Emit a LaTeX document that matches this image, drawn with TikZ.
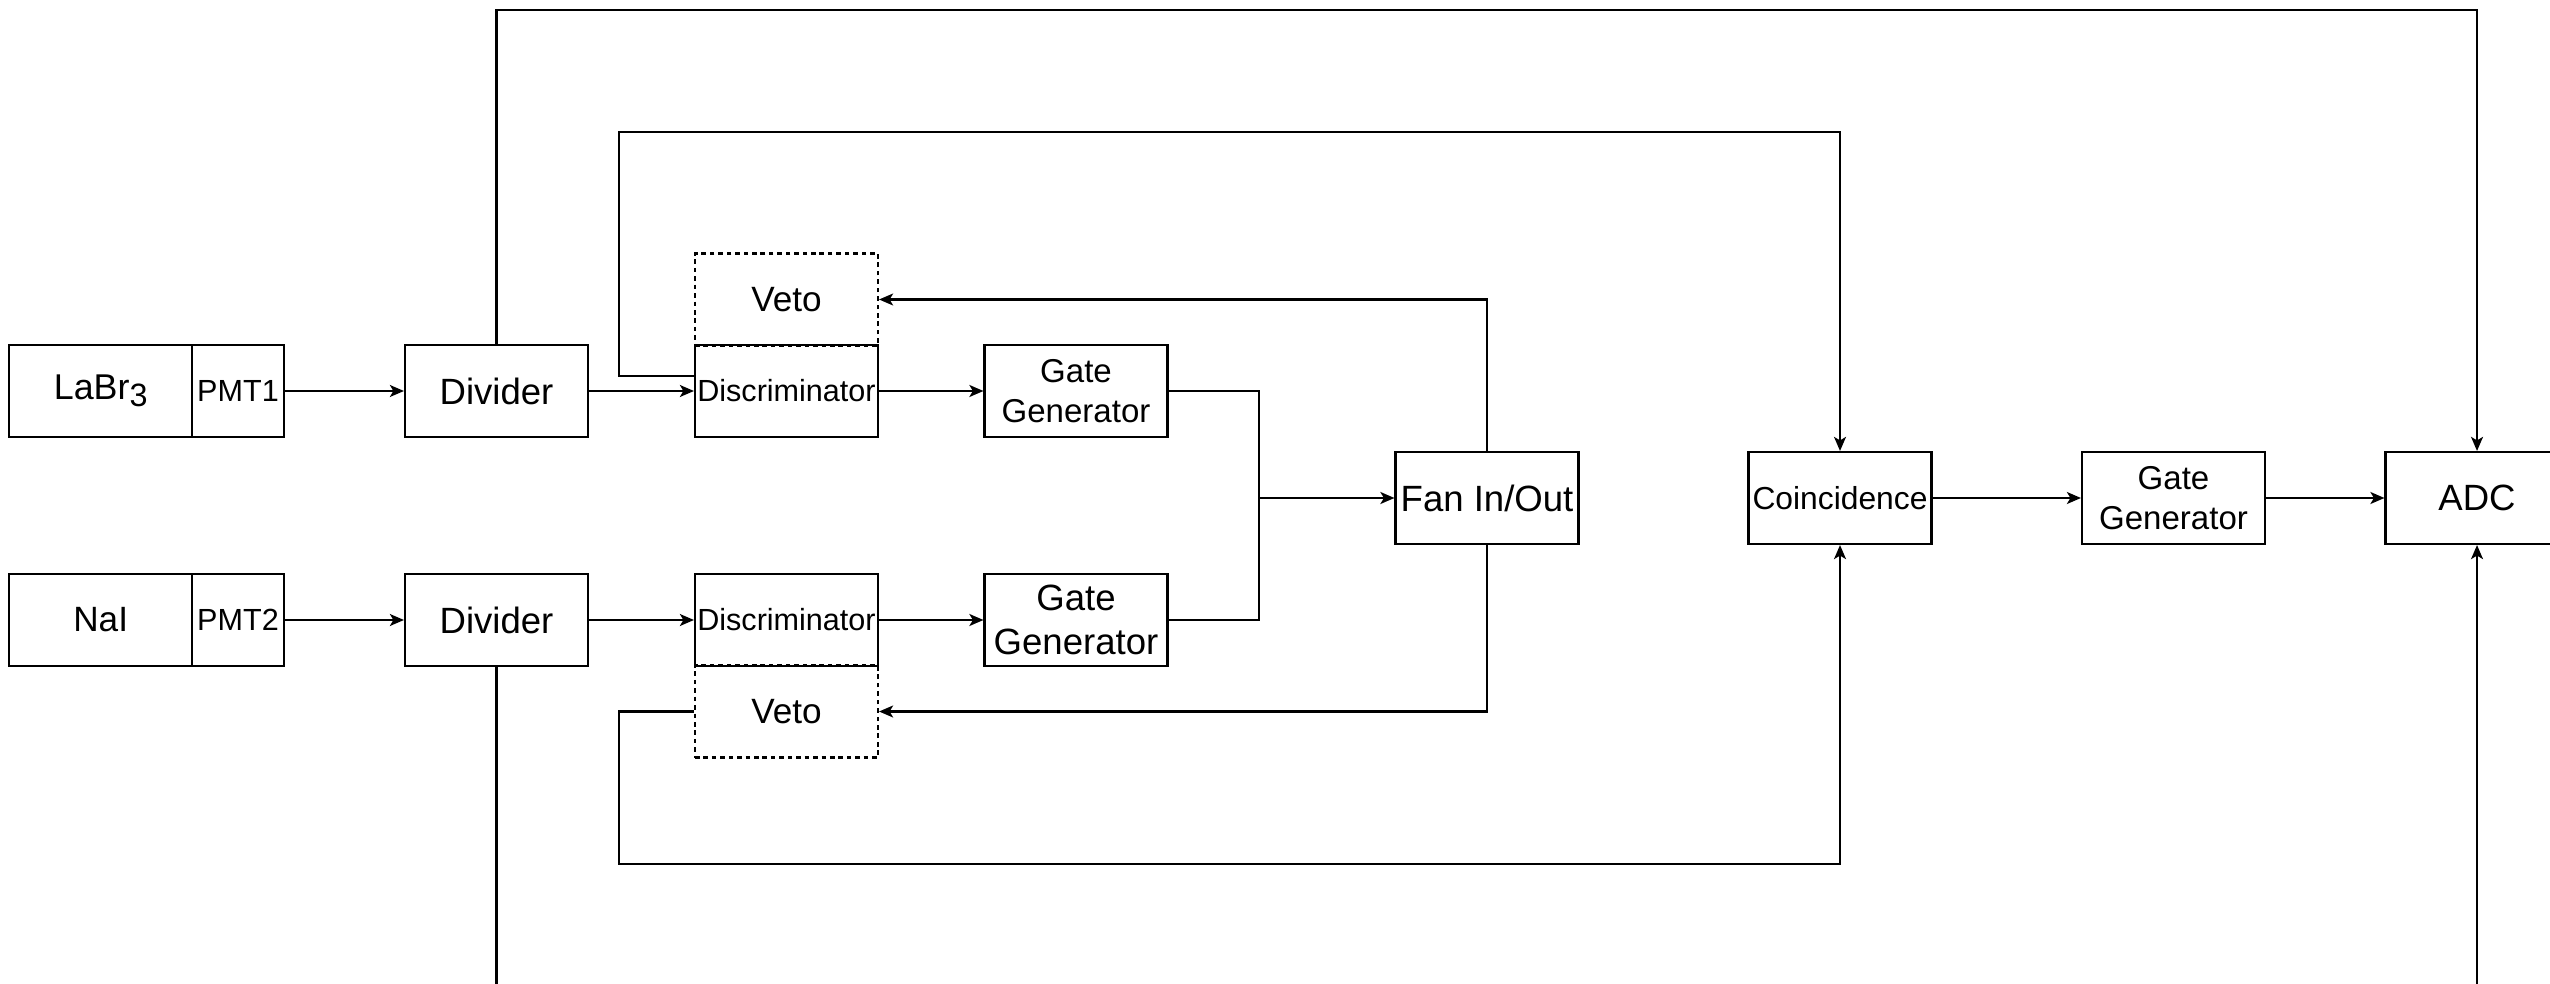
\documentclass[tikz,border=0pt]{standalone}
\usepackage{fontspec}
\setmainfont{Liberation Sans}
\usepackage{tikz}
\usetikzlibrary{arrows.meta}

\begin{document}
\begin{tikzpicture}[x=0.1mm,y=-0.1mm]
	\useasboundingbox (0,0) rectangle (2550,984);
	\begin{scope}[every node/.style={draw,line width=0.6pt,minimum height=9.2mm,minimum width=18.3mm,
	              inner sep=0pt,align=center,font=\fontsize{10.4}{12.4}\selectfont}]
		% detectors
		\node[font=\fontsize{10.2}{12}\selectfont] (labr) at (100.7,391) {LaBr\raisebox{-1.9pt}{\fontsize{9.2}{9.2}\selectfont 3}};
		\node[minimum width=9.2mm,font=\fontsize{8.7}{10}\selectfont] (pmt1) at (238,391) {PMT1};
		\node[font=\fontsize{10}{12}\selectfont] (nai) at (100.7,620) {NaI};
		\node[minimum width=9.2mm,font=\fontsize{8.7}{10}\selectfont] (pmt2) at (238,620) {PMT2};
		\node (div1) at (496.5,391) {Divider};
		\node (div2) at (496.5,620) {Divider};
		% veto boxes first, discriminators over them
		\node[dash pattern=on 1.3pt off 1.1pt,font=\fontsize{10}{12}\selectfont] (veto1) at (786.5,299.5) {Veto};
		\node[dash pattern=on 1.3pt off 1.1pt,font=\fontsize{10}{12}\selectfont] (veto2) at (786.5,711.5) {Veto};
		\node[font=\fontsize{8.7}{10}\selectfont] (disc1) at (786.5,391) {Discriminator};
		\node[font=\fontsize{8.7}{10}\selectfont] (disc2) at (786.5,620) {Discriminator};
		\node[font=\fontsize{9.4}{11.2}\selectfont] (gg1) at (1076,391) {Gate\\Generator};
		\node (gg2) at (1076,620) {Gate\\Generator};
		\node (fan) at (1487,498) {Fan In/Out};
		\node[font=\fontsize{9.05}{11}\selectfont] (coinc) at (1840,498) {Coincidence};
		\node[font=\fontsize{9.4}{11.2}\selectfont] (gg3) at (2173.5,498) {Gate\\Generator};
		\node (adc) at (2477,498) {ADC};
	\end{scope}

	\coordinate (join) at (1259,498);
	\coordinate (up1) at (619,132);
	\coordinate (dn1) at (619,864);
	\coordinate (top) at (2477,10);
	\coordinate (divout) at (496.5,984);
	\coordinate (adcin) at (2477,984);

	\begin{scope}[>={Stealth[length=4pt,width=3.4pt,inset=1pt]},line width=0.6pt]
		\draw[->] (pmt1) -- (div1);
		\draw[->] (pmt2) -- (div2);
		\draw[->] (div1) -- (disc1);
		\draw[->] (div2) -- (disc2);
		\draw[->] (disc1) -- (gg1);
		\draw[->] (disc2) -- (gg2);
		\draw (gg1.east) -| (join) |- (gg2.east);
		\draw[->] (join) -- (fan.west);
		\draw[->] (fan.north) |- (veto1.east);
		\draw[->] (fan.south) |- (veto2.east);
		\draw[->] ([yshift=1.46mm]disc1.west) -| (up1) -| (coinc.north);
		\draw[->] (veto2.west) -| (dn1) -| (coinc.south);
		\draw[->] (coinc) -- (gg3);
		\draw[->] (gg3) -- (adc);
		\draw[->] (div1.north) |- (top) -- (adc.north);
		\draw (div2.south) -- (divout);
		\draw[->] (adcin) -- (adc.south);
	\end{scope}
\end{tikzpicture}
\end{document}
